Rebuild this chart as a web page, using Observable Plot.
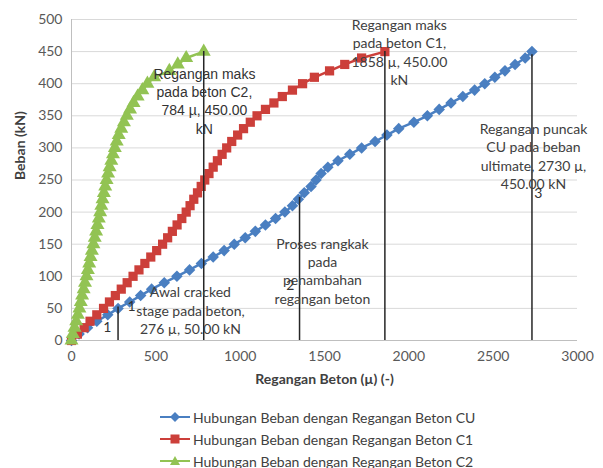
<!DOCTYPE html>
<html><head><meta charset="utf-8">
<script src="https://cdn.jsdelivr.net/npm/d3@7"></script>
<script src="https://cdn.jsdelivr.net/npm/@observablehq/plot@0.6"></script>
<style>
body{margin:0;background:#fff;font-family:Lato,"Open Sans",sans-serif;}
#legend{position:relative;height:73px;}
.row{position:absolute;left:160px;height:22px;display:flex;align-items:center;font-size:14px;color:#404040;white-space:nowrap;}
.row svg{margin-right:3px;}
</style></head><body>
<div id="chart"></div>
<div id="legend"></div>
<script>
const loads = [0,10,20,30,40,50,60,70,80,90,100,110,120,130,140,150,160,170,180,190,200,210,220,230,240,250,260,270,280,290,300,310,320,330,340,350,360,370,380,390,400,410,420,430,440,450];
const strainCU = [0,45,95,150,215,276,345,410,475,550,625,700,770,840,905,965,1030,1090,1150,1210,1265,1310,1345,1380,1420,1450,1480,1520,1580,1650,1720,1800,1870,1940,2030,2110,2180,2250,2320,2390,2450,2510,2570,2630,2690,2730];
const strainC1 = [0,35,75,110,150,190,225,260,295,330,365,400,435,470,505,540,570,598,626,654,680,703,725,747,769,790,815,840,865,893,920,950,985,1020,1060,1100,1150,1200,1250,1310,1370,1440,1530,1620,1720,1858];
const strainC2 = [0,8,18,28,38,47,55,63,72,80,89,97,105,113,121,130,138,146,154,162,170,177,184,192,200,208,217,226,236,246,257,268,280,295,311,328,347,368,392,420,450,490,580,630,680,784];
const seriesNames = ["Hubungan Beban dengan Regangan Beton CU","Hubungan Beban dengan Regangan Beton C1","Hubungan Beban dengan Regangan Beton C2"];
const seriesColors = ["#4a7fc1","#cc3f3a","#92c353"];
const seriesSymbols = ["diamond2","square","triangle"];
const xTicks = [0,500,1000,1500,2000,2500,3000];
const yTicks = [0,50,100,150,200,250,300,350,400,450,500];
// vertical marker lines (strain, load)
const dropStrain = [276,784,1352,1858,2730];
const dropLoad = [52,450,223,450,445];
// annotations (text, strain, load)
const noteText = [
  "Regangan maks\npada beton C1,\n1858 µ, 450.00\nkN",
  "Regangan puncak\nCU pada beban\nultimate, 2730 µ,\n450.00 kN",
  "Proses rangkak\npada\npenambahan\nregangan beton",
  "Awal cracked\nstage pada beton,\n276 µ, 50.00 kN"
];
const noteStrain = [1944,2739,1488,705];
const noteLoad = [450,288,109,48];
const noteC2Text = ["Regangan maks\npada beton C2,\n784 µ, 450.00\nkN"];
const noteC2Strain = [788];
const noteC2Load = [374];
const numText = ["1","1","2","3"];
const numStrain = [213,356,1298,2768];
const numLoad = [20,53,86,229];

const strains = [strainCU, strainC1, strainC2];
const rows = seriesNames.flatMap((s,i)=>loads.map((l,j)=>({series:s, load:l, strain:strains[i][j]})));
const drops = dropStrain.map((s,i)=>({strain:s, load:dropLoad[i]}));
const notes = noteText.map((t,i)=>({text:t, strain:noteStrain[i], load:noteLoad[i]}));
const notesC2 = noteC2Text.map((t,i)=>({text:t, strain:noteC2Strain[i], load:noteC2Load[i]}));
const nums = numText.map((t,i)=>({text:t, strain:numStrain[i], load:numLoad[i]}));

const chart = Plot.plot({
  width:603, height:395,
  marginLeft:71, marginRight:26, marginTop:19, marginBottom:55,
  style:{fontFamily:"Lato, sans-serif", fontSize:"14px", color:"#595959", background:"white"},
  x:{domain:[0,3000], label:null},
  y:{domain:[0,500], label:null},
  color:{domain:seriesNames, range:seriesColors},
  symbol:{domain:seriesNames, range:seriesSymbols},
  marks:[
    Plot.ruleY(yTicks.slice(1), {stroke:"#d9d9d9", strokeWidth:1}),
    Plot.ruleY([0], {stroke:"#bfbfbf", strokeWidth:1}),
    Plot.ruleX([0], {stroke:"#bfbfbf", strokeWidth:1}),
    Plot.axisX({ticks:xTicks, tickSize:0, tickPadding:11, tickFormat:d=>String(d), label:null}),
    Plot.axisY({ticks:yTicks, tickSize:0, tickPadding:9, tickFormat:d=>String(d), label:null}),
    Plot.text(["Regangan Beton (µ) (-)"], {frameAnchor:"bottom", dy:43, fontWeight:"bold", fill:"#404040", fontSize:14}),
    Plot.text(["Beban (kN)"], {frameAnchor:"left", rotate:-90, dx:-51, fontWeight:"bold", fill:"#404040", fontSize:14}),
    Plot.line(rows, {x:"strain", y:"load", z:"series", stroke:"series", strokeWidth:2.5}),
    Plot.dot(rows, {x:"strain", y:"load", symbol:"series", fill:"series", r:5.2, stroke:"none"}),
    Plot.ruleX(drops, {x:"strain", y1:0, y2:"load", stroke:"#262626", strokeWidth:1.5}),
    Plot.text(notes, {x:"strain", y:"load", text:"text", lineAnchor:"middle", lineHeight:1.3, fontSize:14, fill:"#404040"}),
    Plot.text(notesC2, {x:"strain", y:"load", text:"text", lineAnchor:"middle", lineHeight:1.3, fontSize:14, fill:"#333333", fontFamily:"Liberation Sans, Arial, sans-serif"}),
    Plot.text(nums, {x:"strain", y:"load", text:"text", fontSize:14, fill:"#333333"})
  ]
});
document.getElementById("chart").appendChild(chart);

const legend = document.getElementById("legend");
seriesNames.forEach((name,i)=>{
  const row = document.createElement("div");
  row.className = "row";
  row.style.top = (11 + i*22) + "px";
  const sym = seriesSymbols[i];
  let shape = "";
  if (sym==="diamond2") shape = `<polygon points="15,1 20,6 15,11 10,6" fill="${seriesColors[i]}"/>`;
  else if (sym==="square") shape = `<rect x="10.5" y="1.5" width="9" height="9" fill="${seriesColors[i]}"/>`;
  else shape = `<polygon points="15,1 20,10 10,10" fill="${seriesColors[i]}"/>`;
  row.innerHTML = `<svg width="30" height="12"><line x1="0" y1="6" x2="30" y2="6" stroke="${seriesColors[i]}" stroke-width="2"/>${shape}</svg><span>${name}</span>`;
  legend.appendChild(row);
});
</script>
</body></html>
